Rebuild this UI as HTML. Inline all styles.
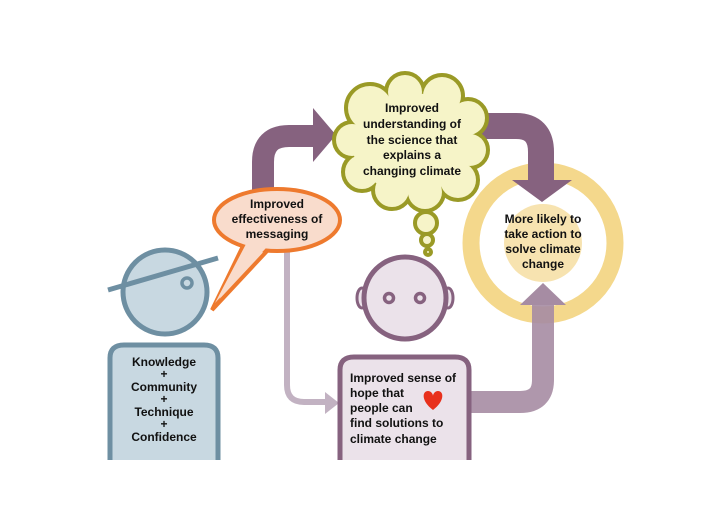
<!DOCTYPE html>
<html><head><meta charset="utf-8"><style>
html,body{margin:0;padding:0;background:#fff;width:728px;height:529px;overflow:hidden}
svg text{font-family:"Liberation Sans",sans-serif;font-weight:bold;font-size:12px;fill:#111;text-anchor:middle}
</style></head><body>
<svg width="728" height="529" viewBox="0 0 728 529" xmlns="http://www.w3.org/2000/svg">
<circle cx="543" cy="243" r="72" fill="none" stroke="#f4d88c" stroke-width="17"/>
<circle cx="543" cy="243" r="39" fill="#f7e3b0"/>
<path d="M263 200 V162 Q263 136 289 136 H316" fill="none" stroke="#86627f" stroke-width="22"/>
<polygon points="313,108 336,135 313,162" fill="#86627f"/>
<path d="M480 126 H516 Q541 126 541 152 V182" fill="none" stroke="#86627f" stroke-width="26"/>
<polygon points="512,180 572,180 542,202" fill="#86627f"/>
<path d="M287 250 V385 Q287 402 304 402 H326" fill="none" stroke="#c2b2c2" stroke-width="6"/>
<polygon points="325,392 339,403 325,414" fill="#c2b2c2"/>
<path d="M465 402 H520 Q543 402 543 380 V302" fill="none" stroke="#a68ca3" stroke-width="22" opacity="0.9"/>
<polygon points="520,305 566,305 543,283" fill="#a68ca3"/>
<g stroke="#9a9a26" stroke-width="8" fill="#f6f4c8">
<circle cx="370" cy="108" r="22"/><circle cx="405" cy="92" r="17"/><circle cx="442" cy="96" r="19"/>
<circle cx="468" cy="118" r="17"/><circle cx="470" cy="150" r="16"/><circle cx="458" cy="180" r="18"/>
<circle cx="425" cy="192" r="17"/><circle cx="392" cy="190" r="17"/><circle cx="362" cy="172" r="17"/><circle cx="352" cy="140" r="16"/>
</g>
<g fill="#f6f4c8">
<circle cx="370" cy="108" r="22"/><circle cx="405" cy="92" r="17"/><circle cx="442" cy="96" r="19"/>
<circle cx="468" cy="118" r="17"/><circle cx="470" cy="150" r="16"/><circle cx="458" cy="180" r="18"/>
<circle cx="425" cy="192" r="17"/><circle cx="392" cy="190" r="17"/><circle cx="362" cy="172" r="17"/><circle cx="352" cy="140" r="16"/>
<ellipse cx="412" cy="143" rx="60" ry="50"/>
</g>
<g stroke="#9a9a26" stroke-width="4" fill="#f6f4c8">
<circle cx="426" cy="223" r="11"/><circle cx="427" cy="240" r="6"/><circle cx="428" cy="252" r="3"/>
</g>
<text x="412" y="112">Improved</text>
<text x="412" y="128">understanding of</text>
<text x="412" y="144">the science that</text>
<text x="412" y="159">explains a</text>
<text x="412" y="175">changing climate</text>
<path d="M243 246 L212 310 L268 250 Z" fill="#f9dccc" stroke="#ee7a2e" stroke-width="4"/>
<ellipse cx="277" cy="220" rx="63" ry="31" fill="#f9dccc" stroke="#ee7a2e" stroke-width="4"/>
<path d="M246 244 L215 303 L266 248 Z" fill="#f9dccc"/>
<text x="277" y="208">Improved</text>
<text x="277" y="223">effectiveness of</text>
<text x="277" y="238">messaging</text>
<circle cx="165" cy="292" r="42" fill="#c8d8e1" stroke="#6e8fa2" stroke-width="5"/>
<line x1="108" y1="290" x2="218" y2="258" stroke="#6e8fa2" stroke-width="5"/>
<circle cx="187" cy="283" r="5" fill="none" stroke="#6e8fa2" stroke-width="3.5"/>
<path d="M110 470 V358 Q110 345 124 345 H204 Q218 345 218 358 V470" fill="#c8d8e1" stroke="#6e8fa2" stroke-width="5"/>
<rect x="100" y="460" width="130" height="30" fill="#fff"/>
<text x="164" y="366">Knowledge</text>
<text x="164" y="378">+</text>
<text x="164" y="391">Community</text>
<text x="164" y="403">+</text>
<text x="164" y="416">Technique</text>
<text x="164" y="428">+</text>
<text x="164" y="441">Confidence</text>
<ellipse cx="362" cy="298" rx="5" ry="10" fill="#ebe2ea" stroke="#86627f" stroke-width="3"/>
<ellipse cx="448" cy="298" rx="5" ry="10" fill="#ebe2ea" stroke="#86627f" stroke-width="3"/>
<circle cx="405" cy="298" r="41" fill="#ebe2ea" stroke="#86627f" stroke-width="5"/>
<circle cx="389" cy="298" r="4.5" fill="none" stroke="#86627f" stroke-width="3.5"/>
<circle cx="420" cy="298" r="4.5" fill="none" stroke="#86627f" stroke-width="3.5"/>
<path d="M340 470 V370 Q340 357 354 357 H455 Q469 357 469 370 V470" fill="#ebe2ea" stroke="#86627f" stroke-width="5"/>
<rect x="330" y="460" width="150" height="30" fill="#fff"/>
<text x="350" y="382" style="text-anchor:start">Improved sense of</text>
<text x="350" y="397" style="text-anchor:start">hope that</text>
<text x="350" y="412" style="text-anchor:start">people can</text>
<text x="350" y="427" style="text-anchor:start">find solutions to</text>
<text x="350" y="443" style="text-anchor:start">climate change</text>
<path d="M433 410 C421 401 422 391 428 391 C431 391 433 394 433 396 C433 394 435 391 438 391 C444 391 445 401 433 410 Z" fill="#e8301c"/>
<text x="543" y="223">More likely to</text>
<text x="543" y="238">take action to</text>
<text x="543" y="253">solve climate</text>
<text x="543" y="268">change</text>
</svg>
</body></html>
